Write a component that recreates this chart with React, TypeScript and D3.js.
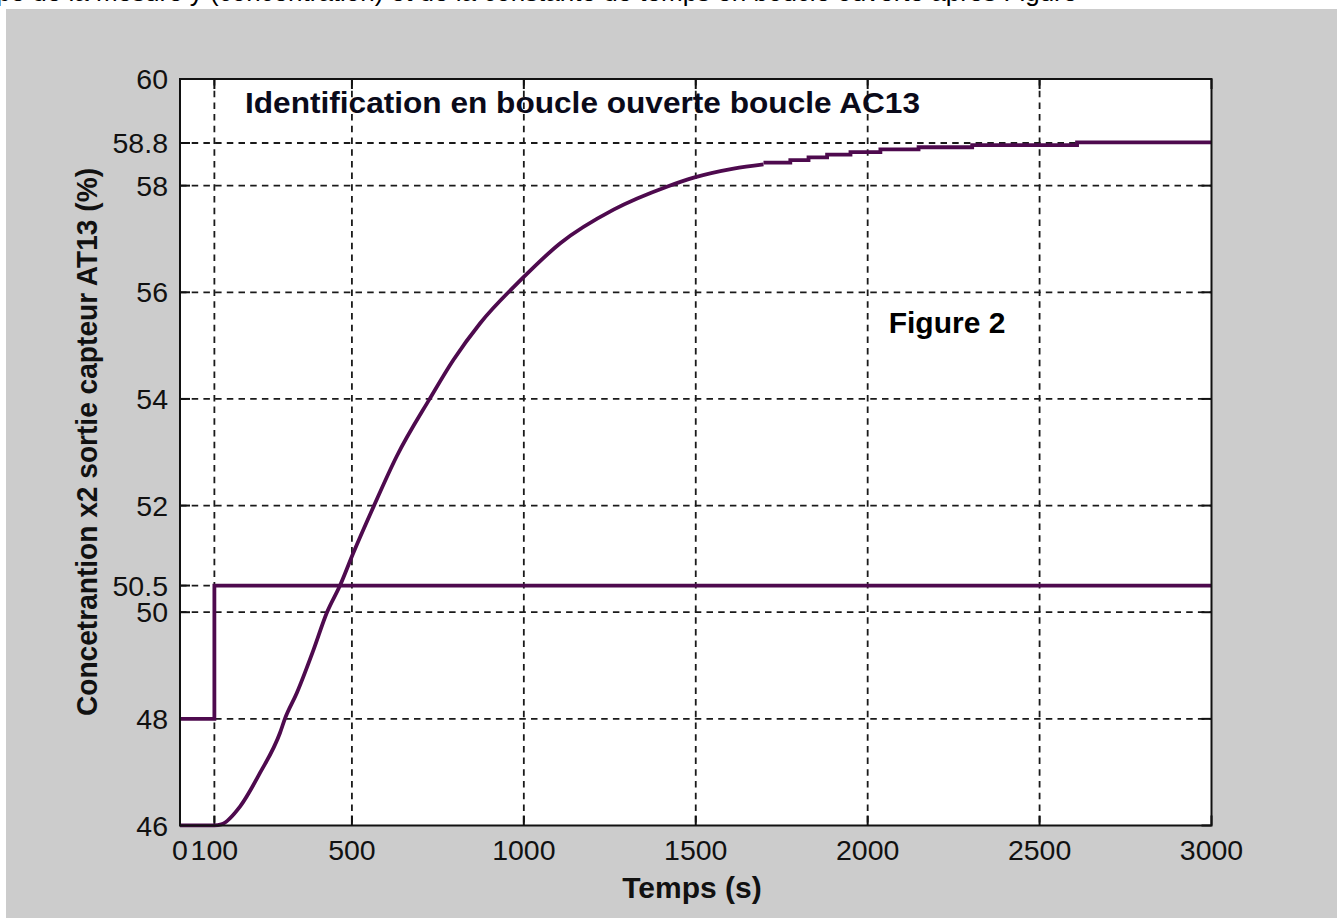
import React, { useEffect } from "react";
import * as d3 from "d3";

// Tick values
const xTicks = [0, 100, 500, 1000, 1500, 2000, 2500, 3000];
const yTicks = [46, 48, 50, 50.5, 52, 54, 56, 58, 58.8, 60];

// Input step (consigne) : time / value
const inputT = [0, 100, 3000];
const inputV = [48, 50.5, 50.5];

// Output response (rising part)
const riseT = [0, 100, 120, 175, 233, 291, 305, 340, 388, 427, 466, 504, 563, 630, 727, 795, 873, 994, 1106, 1261, 1416, 1494, 1610, 1697];
const riseV = [46, 46, 46.02, 46.36, 46.99, 47.74, 48.0, 48.49, 49.29, 49.99, 50.51, 51.11, 51.98, 52.92, 54.01, 54.73, 55.42, 56.25, 56.92, 57.55, 57.98, 58.15, 58.32, 58.4];

// Output plateau (quantised steps)
const plateauT = [1697, 1775, 1828, 1882, 1950, 2037, 2148, 2304, 2609, 3000];
const plateauV = [58.43, 58.48, 58.53, 58.58, 58.63, 58.68, 58.72, 58.76, 58.81, 58.81];

const title = "Identification en boucle ouverte boucle AC13";
const yLabel = "Concetrantion x2 sortie capteur AT13 (%)";
const xLabel = "Temps (s)";
const figLabel = "Figure 2";
const topText = "étape de la mesure y (concentration) et de la constante de temps en boucle ouverte après Figure";

const W = 1337;
const H = 918;
const L = 180, R = 1211.5, T = 79, B = 825.5;
const LINE = "#4e0a4e";
const FONT = "'Liberation Sans', Arial, sans-serif";

export default function App() {
  useEffect(() => {
    document.body.style.margin = "0";
  }, []);

  const x = d3.scaleLinear().domain([0, 3000]).range([L, R]);
  const y = d3.scaleLinear().domain([46, 60]).range([B, T]);

  const inputPath = d3.line<number>().x((d, i) => x(inputT[i])).y((d, i) => y(inputV[i])).curve(d3.curveStepAfter)(inputT) || "";
  const risePath = d3.line<number>().x((d, i) => x(riseT[i])).y((d, i) => y(riseV[i])).curve(d3.curveMonotoneX)(riseT) || "";
  const plateauPath = d3.line<number>().x((d, i) => x(plateauT[i])).y((d, i) => y(plateauV[i])).curve(d3.curveStepAfter)(plateauT) || "";

  const tickLen = 10;

  return (
    <svg width={W} height={H} style={{ position: "absolute", left: 0, top: 0, display: "block" }} fontFamily={FONT}>
      <rect x={0} y={0} width={W} height={H} fill="#ffffff" />
      <text x={-40} y={1} fontSize={26} fill="#000">{topText}</text>
      <rect x={6} y={9} width={W - 6} height={H - 9} fill="#cccccc" />
      <defs>
        <clipPath id="plotclip">
          <rect x={L} y={T - 2} width={R - L + 2} height={B - T + 4} />
        </clipPath>
      </defs>
      <rect x={L} y={T} width={R - L} height={B - T} fill="#ffffff" />

      {/* grid */}
      <g stroke="#1a1a1a" strokeWidth={1.8} strokeDasharray="6.5 5.2">
        {xTicks.filter(t => t !== 0 && t !== 3000).map(t => (
          <line key={"gx" + t} x1={x(t)} x2={x(t)} y1={T} y2={B} />
        ))}
        {yTicks.filter(t => t !== 46 && t !== 60).map(t => (
          <line key={"gy" + t} x1={L} x2={R} y1={y(t)} y2={y(t)} />
        ))}
      </g>

      {/* ticks */}
      <g stroke="#111" strokeWidth={2}>
        {xTicks.map(t => (
          <g key={"tx" + t}>
            <line x1={x(t)} x2={x(t)} y1={B} y2={B - tickLen} />
            <line x1={x(t)} x2={x(t)} y1={T} y2={T + tickLen} />
          </g>
        ))}
        {yTicks.map(t => (
          <g key={"ty" + t}>
            <line x1={L} x2={L + tickLen} y1={y(t)} y2={y(t)} />
            <line x1={R} x2={R - tickLen} y1={y(t)} y2={y(t)} />
          </g>
        ))}
      </g>

      {/* data */}
      <g clipPath="url(#plotclip)" fill="none" stroke={LINE} strokeWidth={3.8} strokeLinejoin="miter">
        <path d={inputPath} />
        <path d={risePath} />
        <path d={plateauPath} />
      </g>

      {/* box */}
      <rect x={L} y={T} width={R - L} height={B - T} fill="none" stroke="#111" strokeWidth={2} />

      {/* tick labels */}
      <g fontSize={28.5} fill="#111">
        {xTicks.map(t => (
          <text key={"lx" + t} x={x(t)} y={860} textAnchor="middle">{t}</text>
        ))}
        {yTicks.map(t => (
          <text key={"ly" + t} x={168} y={y(t) + 10} textAnchor="end">{t}</text>
        ))}
      </g>

      <text x={245} y={113} fontSize={30} fontWeight="bold" fill="#0a0a1a" textLength={675} lengthAdjust="spacingAndGlyphs">{title}</text>
      <text x={947} y={333} fontSize={30} fontWeight="bold" fill="#000" textAnchor="middle">{figLabel}</text>
      <text x={692} y={898} fontSize={30} fontWeight="bold" fill="#111" textAnchor="middle">{xLabel}</text>
      <text transform={`translate(97, 442) rotate(-90)`} fontSize={29} fontWeight="bold" fill="#111" textAnchor="middle" textLength={548} lengthAdjust="spacingAndGlyphs">{yLabel}</text>
    </svg>
  );
}
